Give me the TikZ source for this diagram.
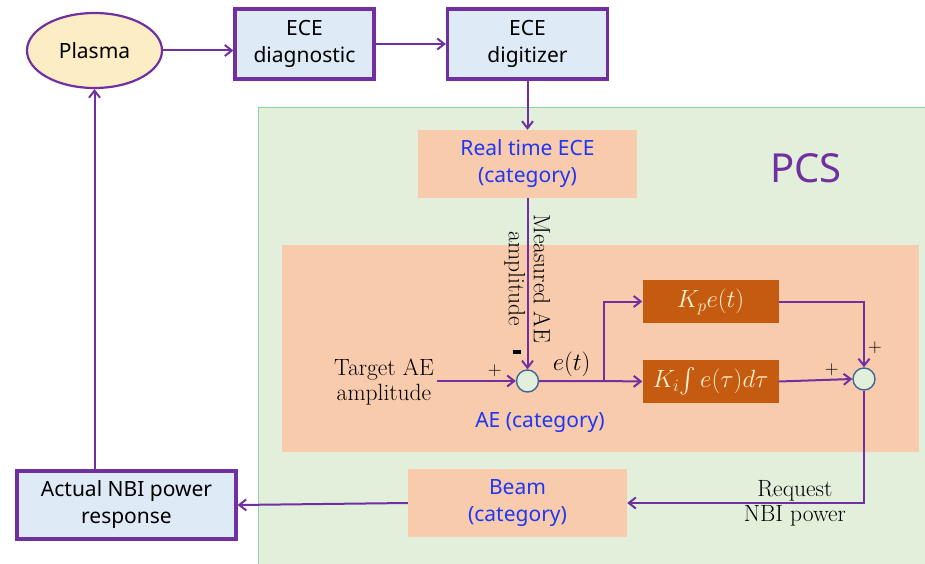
\documentclass[tikz,border=0pt]{standalone}
\usepackage{amsmath}
\usepackage{fontspec}
\setsansfont{Noto Sans}
\usepackage{tikz}
\usetikzlibrary{shapes.geometric, arrows.meta, positioning, calc}
\definecolor{edgepurple}{RGB}{112, 48, 160}
\definecolor{boxblue}{RGB}{222, 235, 247}
\definecolor{plasmafill}{RGB}{253, 237, 196}
\definecolor{pcsgreen}{RGB}{226, 239, 218}
\definecolor{pcsborder}{RGB}{140, 214, 160}
\definecolor{catfill}{RGB}{248, 203, 173}
\definecolor{catblue}{RGB}{30, 55, 245}
\definecolor{gainfill}{RGB}{197, 90, 17}
\definecolor{gaintext}{RGB}{255, 242, 204}
\definecolor{sumfill}{RGB}{226, 239, 218}
\definecolor{sumborder}{RGB}{68, 100, 150}
\tikzset{
  font=\sffamily,
  blockfont/.style={font=\sffamily\fontsize{21}{27}\selectfont},
  hwblock/.style={
    rectangle, draw=edgepurple, line width=3.2pt, fill=boxblue,
    align=center, blockfont, text=black
  },
  plasmablock/.style={
    ellipse, draw=edgepurple, line width=2.2pt, fill=plasmafill,
    minimum width=135pt, minimum height=75pt, blockfont
  },
  catblock/.style={
    rectangle, fill=catfill, text=catblue, align=center, blockfont
  },
  gainblock/.style={
    rectangle, fill=gainfill, text=gaintext,
    minimum width=136pt, minimum height=43pt,
    font=\fontsize{23.5}{26}\selectfont
  },
  sumnode/.style={
    circle, draw=sumborder, fill=sumfill, line width=1.4pt,
    minimum size=22pt, inner sep=0pt
  },
  pcsregion/.style={
    rectangle, draw=pcsborder, fill=pcsgreen, line width=1pt, anchor=north west
  },
  aeregion/.style={rectangle, fill=catfill, anchor=north west},
  seriftext/.style={
    font=\rmfamily\fontsize{23.5}{25}\selectfont, text=black, align=center
  },
  signmark/.style={font=\rmfamily\fontsize{19}{20}\selectfont, inner sep=3pt},
  flowline/.style={
    draw=edgepurple, line width=2pt, -{Straight Barb[length=7pt, width=11pt]}
  }
}

\begin{document}
\begin{tikzpicture}[x=1pt, y=-1pt]
  \useasboundingbox (0,0) rectangle (925,564);

  % Background regions
  \node[pcsregion, minimum width=700pt, minimum height=470pt] (pcs) at (258,107) {};
  \node[aeregion, minimum width=637pt, minimum height=207pt] (ae) at (282,245) {};
  \node[font=\sffamily\fontsize{40}{44}\selectfont, text=edgepurple] (pcslabel) at (806,168) {PCS};

  % Top row: plasma and diagnostic
  \node[plasmablock] (plasma) at (94.5,50.5) {Plasma};
  \node[hwblock, minimum width=139pt, minimum height=70pt] (ecediag) at (304.5,44) {ECE\\diagnostic};
  \node[hwblock, minimum width=160pt, minimum height=70pt] (ecedig) at (527.5,44) {ECE\\digitizer};

  % PCS categories
  \node[catblock, minimum width=219pt, minimum height=68pt] (rtece) at (527.5,164) {Real time ECE\\(category)};
  \node[catblock, minimum width=219pt, minimum height=68pt] (beam) at (517.5,503) {Beam\\(category)};
  \node[text=catblue, blockfont] (aelabel) at (540,422) {AE (category)};

  % Controller
  \node[sumnode] (sumerr) at (527.5,381) {};
  \node[sumnode] (sumout) at (864,379) {};
  \node[gainblock] (kpgain) at (710.5,301.5) {$K_p e(t)$};
  \node[gainblock] (kigain) at (710.5,381.5) {$K_i\!\int e(\tau)d\tau$};
  \node[seriftext] (target) at (384,382) {Target AE\\amplitude};
  \coordinate (branch) at (604,381);

  % Actuator response
  \node[hwblock, minimum width=219pt, minimum height=68pt] (nbiresp) at (126.5,505) {Actual NBI power\\response};

  % Connectors
  \draw[flowline] (plasma.east) -- (plasma.east -| ecediag.west);
  \draw[flowline] (ecediag.east) -- (ecedig.west);
  \draw[flowline] (ecedig.south) -- (rtece.north);
  \draw[flowline] (rtece.south) --
    node[pos=0.47, rotate=-90, seriftext] {Measured AE\\amplitude}
    node[pos=0.9, left=6pt, inner sep=0pt] {\rule{8pt}{3.5pt}} (sumerr.north);
  \draw[flowline] (target.east |- sumerr) -- node[pos=0.73, above, signmark] {+} (sumerr.west);
  \draw[flowline] (sumerr.east) -- node[above, font=\fontsize{24}{26}\selectfont] {$e(t)$} (sumerr.east -| branch) -- (kigain.west);
  \draw[flowline] (sumerr.east -| branch) |- (kpgain.west);
  \draw[flowline] (kpgain.east) -| node[pos=0.85, right, signmark] {+} (sumout.north);
  \draw[flowline] (kigain.east) -- node[pos=0.72, above, signmark] {+} (sumout.west);
  \draw[flowline] (sumout.south) |- node[pos=0.646, seriftext] {Request\\NBI power} (beam.east);
  \draw[flowline] (beam.west) -- (nbiresp.east);
  \draw[flowline] (plasma.south |- nbiresp.north) -- (plasma.south);

\end{tikzpicture}
\end{document}
